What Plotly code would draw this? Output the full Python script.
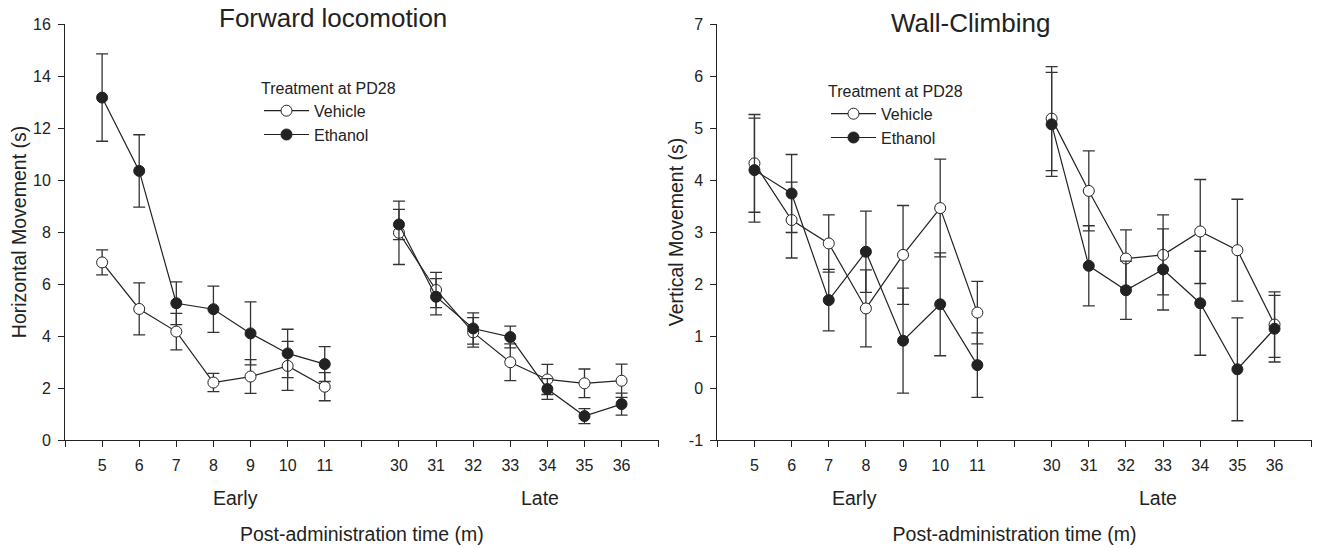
import plotly.graph_objects as go

# ---------------- data ----------------
early_min = ["5", "6", "7", "8", "9", "10", "11"]
late_min = ["30", "31", "32", "33", "34", "35", "36"]

# Forward locomotion (Horizontal movement, s)
veh_fl = [6.83, 5.04, 4.17, 2.21, 2.44, 2.85, 2.05, 7.97, 5.77, 4.14, 2.99, 2.33, 2.18, 2.28]
veh_fl_se = [0.48, 1.00, 0.70, 0.35, 0.65, 0.94, 0.54, 1.22, 0.68, 0.57, 0.71, 0.58, 0.55, 0.64]
eth_fl = [13.17, 10.35, 5.26, 5.03, 4.10, 3.33, 2.92, 8.29, 5.51, 4.29, 3.96, 1.96, 0.92, 1.38]
eth_fl_se = [1.68, 1.39, 0.82, 0.89, 1.21, 0.93, 0.67, 0.58, 0.70, 0.60, 0.42, 0.40, 0.29, 0.42]

# Wall-climbing (Vertical movement, s)
veh_wc = [4.32, 3.23, 2.78, 1.53, 2.56, 3.46, 1.45, 5.18, 3.79, 2.49, 2.56, 3.01, 2.65, 1.22]
veh_wc_se = [0.94, 0.73, 0.55, 0.74, 0.95, 0.94, 0.60, 1.00, 0.77, 0.55, 0.77, 1.00, 0.98, 0.63]
eth_wc = [4.19, 3.74, 1.69, 2.62, 0.91, 1.61, 0.44, 5.07, 2.35, 1.88, 2.28, 1.63, 0.36, 1.14]
eth_wc_se = [1.00, 0.75, 0.59, 0.78, 1.01, 0.99, 0.62, 1.00, 0.77, 0.56, 0.78, 1.00, 0.99, 0.64]

# y tick labels
fl_ticks = [0, 2, 4, 6, 8, 10, 12, 14, 16]
fl_ticktext = ["0", "2", "4", "6", "8", "10", "12", "14", "16"]
wc_ticks = [-1, 0, 1, 2, 3, 4, 5, 6, 7]
wc_ticktext = ["-1", "0", "1", "2", "3", "4", "5", "6", "7"]

# blank categories used as spacers on the axis
pad_left, gap, pad_right = " ", "  ", "   "
category_order = [pad_left] + early_min + [gap] + late_min + [pad_right]

# ---------------- style ----------------
FONT = "Liberation Sans, Arial, sans-serif"
INK = "#222222"
W, H = 1317, 548


def px_x(p):
    return p / W


def px_y(p):
    return (H - p) / H


def split(vals):
    n = len(early_min)
    return list(vals[:n]) + [None] + list(vals[n:])


x_all = early_min + [gap] + late_min

fig = go.Figure()


def add_series(y, se, name, filled, xa, ya, legend):
    fig.add_trace(go.Scatter(
        x=x_all, y=split(y), name=name,
        mode="lines+markers",
        connectgaps=False,
        xaxis=xa, yaxis=ya, legend=legend, showlegend=True,
        line=dict(color=INK, width=1.2),
        marker=dict(symbol="circle", size=11,
                    color=INK if filled else "white",
                    line=dict(color=INK, width=1)),
        error_y=dict(type="data", array=split(se), visible=True,
                     color="#333333", thickness=1.3, width=6),
    ))


add_series(veh_fl, veh_fl_se, "Vehicle", False, "x", "y", "legend")
add_series(eth_fl, eth_fl_se, "Ethanol", True, "x", "y", "legend")
add_series(veh_wc, veh_wc_se, "Vehicle", False, "x2", "y2", "legend2")
add_series(eth_wc, eth_wc_se, "Ethanol", True, "x2", "y2", "legend2")

# panel geometry in page pixels
L1, R1 = 65, 658.7
L2, R2 = 717.3, 1311.7
TOP, BOT = 24, 440

ydom = [px_y(BOT), px_y(TOP)]

xaxis_common = dict(
    type="category", categoryorder="array", categoryarray=category_order,
    range=[0, len(category_order) - 1],
    automargin=False,
    showline=True, linecolor=INK, linewidth=1,
    ticks="outside", ticklen=6, tickwidth=1, tickcolor=INK,
    showgrid=False, zeroline=False,
    tickfont=dict(family=FONT, size=16, color=INK),
    ticklabelstandoff=5,
    title=dict(text="Post-administration time (m)",
               font=dict(family=FONT, size=19.5, color=INK), standoff=54),
)
yaxis_common = dict(
    automargin=False,
    showline=True, linecolor=INK, linewidth=1,
    ticks="outside", ticklen=6, tickwidth=1, tickcolor=INK,
    showgrid=False, zeroline=False,
    tickfont=dict(family=FONT, size=16, color=INK),
    ticklabelstandoff=4,
    tickmode="array",
)

legend_common = dict(
    xanchor="left", yanchor="top",
    bgcolor="rgba(0,0,0,0)",
    title=dict(text="Treatment at PD28", font=dict(family=FONT, size=16, color=INK)),
    font=dict(family=FONT, size=16, color=INK),
    tracegroupgap=0, itemwidth=45,
)

fig.update_layout(
    template="none",
    width=W, height=H,
    margin=dict(l=0, r=0, t=0, b=0, autoexpand=False),
    paper_bgcolor="white", plot_bgcolor="white",
    font=dict(family=FONT, color=INK),
    hovermode=False,
    xaxis=dict(xaxis_common, domain=[px_x(L1), px_x(R1)], anchor="y"),
    xaxis2=dict(xaxis_common, domain=[px_x(L2), px_x(R2)], anchor="y2"),
    yaxis=dict(yaxis_common, domain=ydom, anchor="x", range=[0, 16],
               tickvals=fl_ticks, ticktext=fl_ticktext,
               title=dict(text="Horizontal Movement (s)",
                          font=dict(family=FONT, size=19.5, color=INK), standoff=1)),
    yaxis2=dict(yaxis_common, domain=ydom, anchor="x2", range=[-1, 7],
                tickvals=wc_ticks, ticktext=wc_ticktext,
                title=dict(text="Vertical Movement (s)",
                           font=dict(family=FONT, size=19.5, color=INK), standoff=0)),
    legend=dict(legend_common, x=px_x(259), y=px_y(73)),
    legend2=dict(legend_common, x=px_x(826), y=px_y(76)),
)

# panel titles and Early / Late labels
ann = []
ann.append(dict(text="Forward locomotion", x=px_x(332.5), y=px_y(18)))
ann.append(dict(text="Wall-Climbing", x=px_x(970), y=px_y(22.7)))
for a in ann:
    a.update(xref="paper", yref="paper", xanchor="center", yanchor="middle",
             showarrow=False, font=dict(family=FONT, size=26, color=INK))
sub = [("Early", 235.5), ("Late", 540), ("Early", 854), ("Late", 1158)]
for txt, px in sub:
    ann.append(dict(text=txt, x=px_x(px), y=px_y(498), xref="paper", yref="paper",
                    xanchor="center", yanchor="middle", showarrow=False,
                    font=dict(family=FONT, size=19.5, color=INK)))
fig.update_layout(annotations=ann)

# remove the browser's default page margin so the figure fills the window
fig.write_html("out.html",
               config=dict(displayModeBar=False, staticPlot=False),
               post_script="document.body.style.margin='0';document.body.style.overflow='hidden';")
